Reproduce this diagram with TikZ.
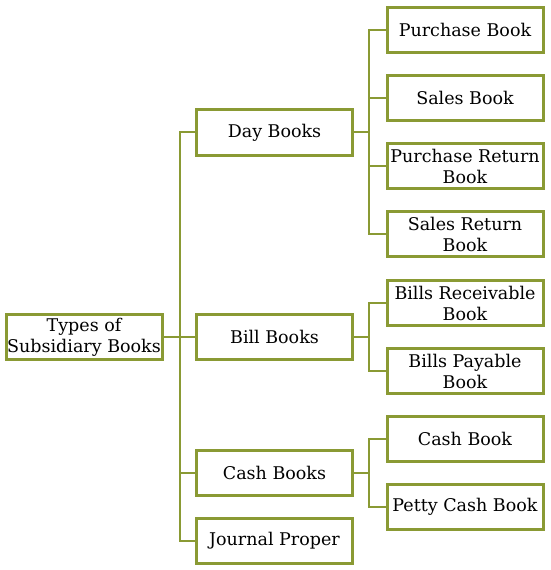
\documentclass[tikz,border=0pt]{standalone}
\usepackage{fontspec}
\setmainfont{DejaVu Serif}
\usepackage{tikz}
\definecolor{bookgreen}{RGB}{138,154,52}

\tikzset{
  bookbox/.style={draw=bookgreen, line width=3pt, fill=white, minimum width=156pt,
    minimum height=45.5pt, inner sep=0pt, align=center,
    font=\fontsize{17.5}{21}\selectfont},
  link/.style={draw=bookgreen, line width=2pt}
}

\begin{document}
\begin{tikzpicture}[x=1pt,y=1pt]
  \useasboundingbox (0,0) rectangle (550,570);
  % root and middle column
  \node[bookbox] (root) at (84,233) {Types of\\Subsidiary Books};
  \foreach \name/\y/\txt in {day/437.5/Day Books,bill/233/Bill Books,cash/97/Cash Books,journal/29/Journal Proper}
    \node[bookbox] (\name) at (274.5,\y) {\txt};
  % right column
  \foreach \name/\y/\txt in {pb/540/Purchase Book,sb/472/Sales Book,prb/404/{Purchase Return\\Book},srb/336/{Sales Return\\Book},
                            br/267/{Bills Receivable\\Book},bp/199/{Bills Payable\\Book},cb/131/Cash Book,pcb/63/Petty Cash Book}
    \node[bookbox] (\name) at (465,\y) {\txt};
  % connectors
  \foreach \name in {day,bill,cash,journal}
    \draw[link] (root.east) -- ++(16,0) |- (\name.west);
  \foreach \name in {pb,sb,prb,srb}
    \draw[link] (day.east) -- ++(15,0) |- (\name.west);
  \foreach \name in {br,bp}
    \draw[link] (bill.east) -- ++(15,0) |- (\name.west);
  \foreach \name in {cb,pcb}
    \draw[link] (cash.east) -- ++(15,0) |- (\name.west);
\end{tikzpicture}
\end{document}
